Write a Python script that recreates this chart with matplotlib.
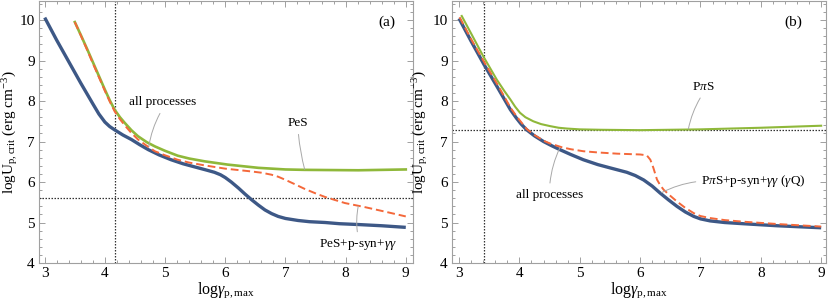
import matplotlib
matplotlib.use("Agg")
import matplotlib.pyplot as plt
from matplotlib.ticker import MultipleLocator

plt.rcParams['font.family'] = ['Liberation Serif', 'DejaVu Serif']
plt.rcParams['mathtext.fontset'] = 'custom'
plt.rcParams['mathtext.rm'] = 'Liberation Serif'
plt.rcParams['mathtext.it'] = 'Liberation Serif:italic'

# --- panel (a) data ---
xa_all = [3.0, 3.2, 3.4, 3.6, 3.8, 3.9, 4.0, 4.08, 4.16, 4.30, 4.44, 4.58, 4.72, 4.9, 5.10,
          5.3, 5.55, 5.7, 5.82, 5.92, 6.0, 6.1, 6.22, 6.33, 6.44, 6.55, 6.66, 6.77, 6.88,
          7.0, 7.21, 7.4, 7.66, 7.9, 8.21, 8.6, 9.0]
ya_all = [10.06, 9.5, 8.97, 8.44, 7.93, 7.68, 7.48, 7.37, 7.29, 7.16, 7.05, 6.92, 6.80, 6.67,
          6.55, 6.45, 6.35, 6.29, 6.24, 6.18, 6.11, 6.0, 5.85, 5.70, 5.56, 5.43, 5.31, 5.22,
          5.15, 5.10, 5.05, 5.02, 5.00, 4.97, 4.95, 4.92, 4.88]
xa_pes = [3.5, 3.6, 3.7, 3.8, 3.9, 4.0, 4.08, 4.16, 4.25, 4.33, 4.44, 4.55, 4.7, 4.83, 5.0,
          5.21, 5.4, 5.66, 6.04, 6.55, 7.0, 7.32, 8.21, 9.0]
ya_pes = [9.95, 9.63, 9.30, 8.96, 8.62, 8.28, 8.02, 7.79, 7.60, 7.46, 7.28, 7.13, 6.98, 6.88,
          6.77, 6.65, 6.58, 6.51, 6.43, 6.35, 6.31, 6.30, 6.29, 6.31]
xa_syn = [3.5, 3.6, 3.7, 3.8, 3.9, 4.0, 4.08, 4.16, 4.25, 4.33, 4.44, 4.55, 4.7, 4.83, 5.0,
          5.21, 5.4, 5.66, 6.0, 6.44, 6.6, 6.77, 6.88, 6.99, 7.15, 7.32, 7.5, 7.66, 7.99,
          8.32, 8.65, 9.0]
ya_syn = [9.95, 9.62, 9.28, 8.93, 8.59, 8.25, 7.99, 7.75, 7.55, 7.40, 7.21, 7.05, 6.89, 6.76,
          6.66, 6.55, 6.48, 6.41, 6.33, 6.26, 6.23, 6.18, 6.13, 6.06, 5.95, 5.83, 5.72, 5.63,
          5.48, 5.38, 5.27, 5.15]
vline_a, hline_a = 4.16, 5.60

# --- panel (b) data ---
xb_all = [3.0, 3.2, 3.415, 3.625, 3.85, 3.95, 4.03, 4.12, 4.25, 4.40, 4.53, 4.67, 4.85, 5.06,
          5.3, 5.50, 5.78, 5.92, 6.06, 6.2, 6.33, 6.47, 6.61, 6.75, 6.89, 7.0, 7.16, 7.4,
          7.71, 8.27, 9.0]
yb_all = [10.04, 9.48, 8.90, 8.37, 7.79, 7.58, 7.43, 7.29, 7.14, 7.00, 6.90, 6.80, 6.68, 6.55,
          6.43, 6.35, 6.24, 6.16, 6.05, 5.90, 5.73, 5.56, 5.40, 5.26, 5.15, 5.09, 5.04, 5.00,
          4.97, 4.92, 4.87]
xb_syn = [3.01, 3.2, 3.43, 3.64, 3.86, 3.96, 4.04, 4.12, 4.25, 4.40, 4.51, 4.7, 4.85, 5.06,
          5.3, 5.62, 6.0, 6.11, 6.17, 6.22, 6.28, 6.33, 6.39, 6.5, 6.61, 6.75, 6.89, 7.0,
          7.16, 7.4, 7.71, 8.3, 9.0]
yb_syn = [10.07, 9.53, 8.93, 8.40, 7.82, 7.61, 7.46, 7.31, 7.16, 7.02, 6.95, 6.86, 6.81, 6.76,
          6.73, 6.70, 6.68, 6.66, 6.55, 6.35, 6.06, 5.93, 5.81, 5.66, 5.52, 5.36, 5.23, 5.16,
          5.11, 5.06, 5.02, 4.96, 4.90]
xb_pps = [3.045, 3.2, 3.40, 3.625, 3.75, 3.85, 3.93, 4.01, 4.1, 4.23, 4.36, 4.51, 4.65, 4.79,
          5.0, 5.34, 6.0, 7.0, 8.0, 9.0]
yb_pps = [10.10, 9.67, 9.11, 8.53, 8.25, 8.04, 7.86, 7.71, 7.60, 7.50, 7.43, 7.38, 7.34, 7.32,
          7.30, 7.29, 7.28, 7.30, 7.34, 7.39]
vline_b, hline_b = 3.415, 7.29

BLUE = '#3d5886'
GREEN = '#8fb83a'
ORANGE = '#f4683a'
FRAME = '#a0a0a0'

fig = plt.figure(figsize=(8.3, 3.05), dpi=100)
ax_a = fig.add_axes([39 / 830, 42 / 305, 374 / 830, 262 / 305])
ax_b = fig.add_axes([452 / 830, 42 / 305, 374 / 830, 262 / 305])


def style(ax, xlim, ylab_x):
    ax.set_xlim(*xlim)
    ax.set_ylim(4, 10.47)
    ax.xaxis.set_major_locator(MultipleLocator(1))
    ax.xaxis.set_minor_locator(MultipleLocator(0.2))
    ax.yaxis.set_major_locator(MultipleLocator(1))
    ax.yaxis.set_minor_locator(MultipleLocator(0.2))
    ax.tick_params(which='both', direction='in', top=True, right=True, color=FRAME,
                   labelsize=11, width=0.7)
    ax.tick_params(which='major', length=4, pad=3)
    ax.tick_params(which='minor', length=2.3)
    for s in ax.spines.values():
        s.set_color(FRAME)
        s.set_linewidth(0.8)
    ax.set_xlabel(r'$\mathrm{log}\gamma_{\mathrm{p,max}}$', fontsize=11.5)
    ax.xaxis.set_label_coords(0.5, -0.068)
    ax.set_ylabel(r'$\mathrm{logU}_{\mathrm{p,crit}}$ (erg cm$^{-3}$)', fontsize=11)
    ax.yaxis.set_label_coords(ylab_x, 0.5)


def leader(ax, text, xy, xytext, relpos, rad=0.1):
    ax.annotate(text, xy=xy, xytext=xytext, fontsize=9.5, ha='center', va='center',
                arrowprops=dict(arrowstyle='-', color='#a8a8a8', lw=0.7, relpos=relpos,
                                shrinkA=2, shrinkB=0,
                                connectionstyle=f'arc3,rad={rad}'))


# panel (a)
style(ax_a, (2.905, 9.12), -0.05)
ax_a.axvline(vline_a, color='#333333', ls=(0, (1.2, 1.2)), lw=0.9)
ax_a.axhline(hline_a, color='#333333', ls=(0, (1.2, 1.2)), lw=0.9)
ax_a.plot(xa_all, ya_all, color=BLUE, lw=2.4, solid_capstyle='butt')
ax_a.plot(xa_pes, ya_pes, color=GREEN, lw=1.9)
ax_a.plot(xa_syn, ya_syn, color=ORANGE, lw=1.4, ls=(0, (4, 2)))
leader(ax_a, 'all processes', (4.73, 6.88), (4.965, 7.97), (0.5, 0.0), rad=0.1)
leader(ax_a, 'PeS', (7.32, 6.31), (7.21, 7.46), (0.5, 0.0), rad=0.05)
leader(ax_a, r'PeS+p-syn+$\gamma\gamma$', (8.21, 5.40), (8.21, 4.45), (0.5, 1.0), rad=-0.1)
ax_a.text(8.68, 9.94, '(a)', fontsize=11, ha='center', va='center')

# panel (b)
style(ax_b, (2.884, 9.08), -0.06)
ax_b.axvline(vline_b, color='#333333', ls=(0, (1.2, 1.2)), lw=0.9)
ax_b.axhline(hline_b, color='#333333', ls=(0, (1.2, 1.2)), lw=0.9)
ax_b.plot(xb_all, yb_all, color=BLUE, lw=2.4, solid_capstyle='butt')
ax_b.plot(xb_pps, yb_pps, color=GREEN, lw=1.5)
ax_b.plot(xb_syn, yb_syn, color=ORANGE, lw=1.4, ls=(0, (4, 2)))
leader(ax_b, r'P$\pi$S', (6.80, 7.31), (7.05, 8.35), (0.5, 0.0), rad=0.1)
leader(ax_b, r'P$\pi$S+p-syn+$\gamma\gamma$ ($\gamma$Q)', (6.36, 5.74), (7.88, 6.02),
       (0.0, 0.5), rad=0.1)
leader(ax_b, 'all processes', (4.67, 6.84), (4.50, 5.69), (0.5, 1.0), rad=-0.1)
ax_b.text(8.54, 9.94, '(b)', fontsize=11, ha='center', va='center')

fig.savefig('out.png', dpi=100)
